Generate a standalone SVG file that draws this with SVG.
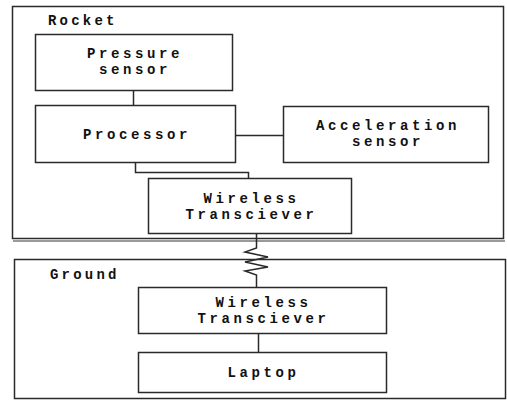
<svg xmlns="http://www.w3.org/2000/svg" width="507" height="400" viewBox="0 0 507 400">
  <style>
    .frame { fill: #ffffff; stroke: #2a2a2a; stroke-width: 1.5; }
    .box { fill: #ffffff; stroke: #2a2a2a; stroke-width: 1.5; }
    .wire { fill: none; stroke: #2a2a2a; stroke-width: 1.5; }
    .lbl { font-family: "Liberation Mono", "Courier New", monospace; font-weight: bold; font-size: 14px; letter-spacing: 3.6px; fill: #111111; text-anchor: middle; }
    .title { font-family: "Liberation Mono", "Courier New", monospace; font-weight: bold; font-size: 14px; letter-spacing: 3.2px; fill: #111111; }
  </style>
  <rect width="507" height="400" fill="#ffffff"/>

  <!-- Rocket section -->
  <g id="rocket">
    <line x1="13" y1="241" x2="505" y2="241" stroke="#9a9a9a" stroke-width="2"/>
    <rect class="frame" x="12.5" y="6.5" width="491" height="232"/>
    <text class="title" x="48" y="25">Rocket</text>
  </g>

  <!-- Ground section -->
  <g id="ground">
    <rect class="frame" x="14.5" y="259.5" width="491" height="139"/>
    <text class="title" x="50" y="279">Ground</text>
  </g>

  <!-- Connectors -->
  <g id="connectors">
    <line class="wire" x1="133.5" y1="90" x2="133.5" y2="105"/>
    <line class="wire" x1="236" y1="135.5" x2="283" y2="135.5"/>
    <polyline class="wire" points="135.5,162 135.5,172.5 248.5,172.5 248.5,178"/>
    <polyline class="wire" points="256.5,233 256.5,248 245,252 268,257 245,262 268,267 245,271 256.5,275 256.5,287"/>
    <line class="wire" x1="258.5" y1="333" x2="258.5" y2="352"/>
  </g>

  <g id="pressure-sensor">
    <rect class="box" x="35.5" y="34.5" width="197" height="56"/>
    <text class="lbl" x="135" y="58">Pressure</text>
    <text class="lbl" x="135" y="74">sensor</text>
  </g>

  <g id="processor">
    <rect class="box" x="35.5" y="105.5" width="200" height="57"/>
    <text class="lbl" x="137" y="139">Processor</text>
  </g>

  <g id="acceleration-sensor">
    <rect class="box" x="283.5" y="106.5" width="205" height="56"/>
    <text class="lbl" x="388" y="130">Acceleration</text>
    <text class="lbl" x="388" y="146">sensor</text>
  </g>

  <g id="rocket-transceiver">
    <rect class="box" x="148.5" y="178.5" width="203" height="55"/>
    <text class="lbl" x="251.5" y="203">Wireless</text>
    <text class="lbl" x="251.5" y="219">Transciever</text>
  </g>

  <g id="ground-transceiver">
    <rect class="box" x="138.5" y="287.5" width="248" height="46"/>
    <text class="lbl" x="263.5" y="307">Wireless</text>
    <text class="lbl" x="263.5" y="323">Transciever</text>
  </g>

  <g id="laptop">
    <rect class="box" x="138.5" y="352.5" width="248" height="40"/>
    <text class="lbl" x="263.5" y="377">Laptop</text>
  </g>
</svg>
